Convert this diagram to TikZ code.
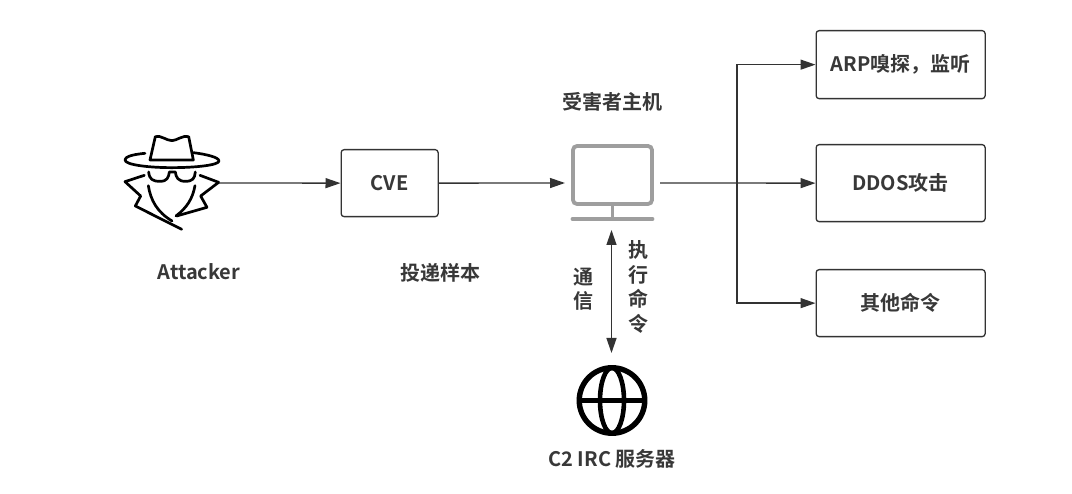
\documentclass[tikz,border=0pt]{standalone}
\usepackage{fontspec}
\setmainfont{Noto Sans CJK SC}[BoldFont={Noto Sans CJK SC Bold}]
\usetikzlibrary{arrows.meta}
\definecolor{ink}{HTML}{333333}
\definecolor{txt}{HTML}{383838}
\definecolor{mon}{HTML}{9E9E9E}
\tikzset{
  x=1pt,y=-1pt,
  box/.style={draw=ink,line width=1.3pt,rounded corners=3pt,fill=white,anchor=north west,inner sep=0pt,font=\fontsize{20}{20}\selectfont\bfseries,text=txt},
  lbl/.style={inner sep=0pt,font=\fontsize{20}{20}\selectfont\bfseries,text=txt},
  vlbl/.style={lbl,align=center,font=\fontsize{20}{24.5}\selectfont\bfseries},
  tip/.style={Triangle[length=15pt,width=10pt]},
  link/.style={draw=ink,line width=1.3pt,-{Triangle[length=15pt,width=10pt]}},
  both/.style={draw=ink,line width=1.3pt,{Triangle[length=15pt,width=10pt]}-{Triangle[length=15pt,width=10pt]}},
  icon/.style={draw=black,line width=2.7pt,line cap=round,line join=round},
  anchorbox/.style={inner sep=0pt,minimum width=#1,draw=none}
}
\begin{document}
\begin{tikzpicture}
\useasboundingbox (0,0) rectangle (1072,494);
% attacker icon
\begin{scope}[shift={(110,120)},x=0.3333pt,y=-0.3333pt]
 \draw[icon] (120,120) -- (136,50) .. controls (150,44) and (170,62) .. (186,62) .. controls (200,62) and (220,44) .. (236,50) -- (250,120) -- cycle;
 \draw[icon] (105,100) .. controls (60,104) and (45,112) .. (45,120) .. controls (45,135) and (120,143) .. (185,143) .. controls (260,143) and (327,135) .. (327,123) .. controls (327,112) and (290,103) .. (250,98);
 \draw[icon] (116,156) .. controls (118,178) and (128,184) .. (150,184) .. controls (172,184) and (176,172) .. (178,156) -- (196,156) .. controls (198,172) and (204,184) .. (226,184) .. controls (248,184) and (254,176) .. (256,156);
 \draw[icon] (103,166) -- (45,185) -- (92,228) -- (76,258) -- (215,328);
 \draw[icon] (270,166) -- (326,187) -- (272,228) -- (291,262) -- (200,288);
 \draw[icon] (115,197) .. controls (122,240) and (140,275) .. (186,303);
 \draw[icon] (255,197) .. controls (248,235) and (232,262) .. (198,288);
\end{scope}
\node[anchorbox=94pt,minimum height=94pt] (attacker) at (172,183) {};
\node[lbl] (attackerlabel) at (199,272) {Attacker};
% CVE
\node[box,minimum width=97pt,minimum height=67pt] (cve) at (340.5,149) {CVE};
\node[lbl] (sample) at (440,273) {投递样本};
% host
\node[lbl] (hostlabel) at (612,102) {受害者主机};
\node[draw=mon,line width=3.8pt,rounded corners=4pt,minimum width=79pt,minimum height=58pt,inner sep=0pt,fill=white] (screen) at (612.5,175) {};
\draw[draw=mon,line width=3.8pt] (612.5,204) -- (612.5,219);
\draw[draw=mon,line width=3.8pt,line cap=round] (572.5,219) -- (652.5,219);
\coordinate (hostin) at (565,183);
\coordinate (hostout) at (660,183);
\coordinate (hostbottom) at (611.5,230);
% targets
\node[box,minimum width=169pt,minimum height=68pt] (arp) at (815.5,30) {ARP嗅探，监听};
\node[box,minimum width=169pt,minimum height=77pt] (ddos) at (815.5,144) {DDOS攻击};
\node[box,minimum width=169pt,minimum height=67pt] (other) at (815.5,269) {其他命令};
% C2
\node[circle,draw=black,line width=5.4pt,minimum size=65.5pt,inner sep=0pt] (globe) at (612,400.5) {};
\draw[black,line width=4.6pt] (globe.west) -- (globe.east);
\draw[black,line width=4.6pt] (globe.center) ellipse [x radius=12pt,y radius=32.7pt];
\node[lbl] (c2) at (612,459) {C2 IRC 服务器};
\coordinate (c2top) at (611.5,353);
% connectors
\draw[link] (attacker.east) -- (cve.west);
\draw[link] (cve.east) -- (hostin);
\draw[link] (hostout) -- (ddos.west);
\coordinate (branch) at (737,183);
\draw[link] (branch) |- (arp.west);
\draw[link] (branch) |- (other.west);
\draw[both] (hostbottom) -- (c2top);
\node[vlbl] (comm) at (583,289) {通\\信};
\node[vlbl] (exec) at (638,287) {执\\行\\命\\令};
\end{tikzpicture}
\end{document}
